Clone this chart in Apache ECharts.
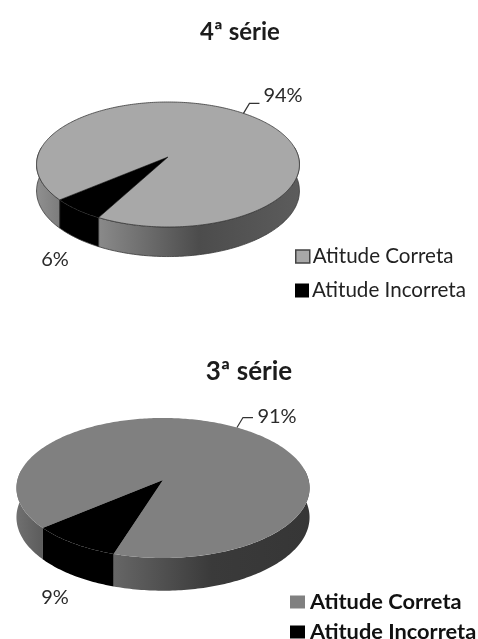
<!DOCTYPE html>
<html>
<head>
<meta charset="utf-8">
<style>html,body{margin:0;padding:0;background:#fff}#c{width:478px;height:639px}</style>
<script src="https://cdn.jsdelivr.net/npm/echarts@6/dist/echarts.min.js"></script>
</head>
<body>
<div id="c"></div>
<script>
// Attitude shares per school grade
const categories = ['Atitude Correta', 'Atitude Incorreta'];
const serie4 = [94, 6];
const serie3 = [91, 9];
const titles = ['4ª série', '3ª série'];

const RAD = Math.PI / 180;

// Perspective disc: a and b are the half axes, k the foreshortening, depth the wall height.
const disc4 = {
  values: serie4, cx: 168, cy: 157, a: 130.5, b: 61.6, k: 0.12, depth: 26, start: 230,
  top: '#a8a8a8', outline: '#3a3a3a', edge: 0.8,
  wallLeft: ['#909090', '#7c7c7c'], wallRight: ['#8a8a8a', '#4c4c4c', '#5c5c5c'],
  corretaLabel: [283, 96], incorretaLabel: [55, 260]
};
const disc3 = {
  values: serie3, cx: 163, cy: 480, a: 145.6, b: 69.1, k: 0.114, depth: 29, start: 230,
  top: '#808080', outline: '#808080', edge: 0,
  wallLeft: ['#707070', '#5c5c5c'], wallRight: ['#666666', '#3a3a3a', '#363636'],
  corretaLabel: [277, 417], incorretaLabel: [55, 598]
};

function project(d, deg) {
  const u = Math.sin(deg * RAD), v = Math.cos(deg * RAD), w = 1 + d.k * v;
  return { x: d.cx + d.a * u / w, y: d.cy - d.b * v / w, w: w };
}
function arc(d, from, to) {
  const pts = [], n = Math.max(2, Math.ceil(Math.abs(to - from)));
  for (let i = 0; i <= n; i++) pts.push(project(d, from + (to - from) * i / n));
  return pts;
}
function wall(d, from, to, fill) {
  const upper = arc(d, from, to);
  const lower = upper.slice().reverse().map(p => ({ x: p.x, y: p.y + d.depth / p.w }));
  return {
    type: 'polygon',
    shape: { points: upper.concat(lower).map(p => [p.x, p.y]) },
    style: { fill: fill, stroke: d.edge ? d.outline : null, lineWidth: d.edge }
  };
}
function gradient(colors) {
  return {
    type: 'linear', x: 0, y: 0, x2: 1, y2: 0,
    colorStops: colors.map((c, i) => ({ offset: i / (colors.length - 1), color: c }))
  };
}
function labelText(pos, text) {
  return {
    type: 'text',
    style: { x: pos[0], y: pos[1], text: text, fill: '#2a2a2a', font: '20px Lato', align: 'center', verticalAlign: 'middle' }
  };
}

// Large slice: front wall on both sides of the small wedge, then the top face and its leader.
function renderCorreta(d) {
  const total = d.values[0] + d.values[1];
  const end = d.start + 360 * d.values[0] / total;
  const mid = project(d, (d.start + end) / 2);
  const face = arc(d, d.start, end).map(p => [p.x, p.y]);
  face.push([d.cx, d.cy]);
  const children = [
    wall(d, d.start, 279, gradient(d.wallLeft)),
    wall(d, 81, end - 360, gradient(d.wallRight)),
    { type: 'polygon', shape: { points: face }, style: { fill: d.top, stroke: d.edge ? d.outline : null, lineWidth: d.edge } },
    { type: 'polyline',
      shape: { points: [[mid.x, mid.y], [mid.x + 6, mid.y - 10], [mid.x + 16, mid.y - 10]] },
      style: { stroke: '#333', lineWidth: 1.2, fill: null } },
    labelText(d.corretaLabel, d.values[0] + '%')
  ];
  return { type: 'group', children: children };
}

// Small slice: solid black wedge with its wall.
function renderIncorreta(d) {
  const total = d.values[0] + d.values[1];
  const from = d.start + 360 * d.values[0] / total - 360;
  const to = d.start;
  const face = arc(d, from, to).map(p => [p.x, p.y]);
  face.push([d.cx, d.cy]);
  return {
    type: 'group',
    children: [
      wall(d, from, to, '#000'),
      { type: 'polygon', shape: { points: face }, style: { fill: '#000' } },
      labelText(d.incorretaLabel, d.values[1] + '%')
    ]
  };
}

function discSeries(d) {
  return [
    { type: 'custom', name: categories[0], coordinateSystem: 'none', silent: true,
      data: [d.values[0]], renderItem: () => renderCorreta(d) },
    { type: 'custom', name: categories[1], coordinateSystem: 'none', silent: true,
      data: [d.values[1]], renderItem: () => renderIncorreta(d) }
  ];
}

// One single-entry legend per row, so each row keeps its own place.
function legendRow(name, left, top, width, height, textStyle, itemStyle) {
  return {
    left: left, top: top, padding: 0, itemWidth: width, itemHeight: height,
    selectedMode: false, icon: 'rect', textStyle: textStyle,
    data: [{ name: name, itemStyle: itemStyle }]
  };
}
const plain = { fontFamily: 'Lato', fontSize: 20.6, color: '#222', padding: [0, 0, 0, -2] };
const heavy = { fontFamily: 'Lato', fontWeight: 'bold', fontSize: 21.8, color: '#111' };

const chart = echarts.init(document.getElementById('c'), null, { renderer: 'canvas' });
chart.setOption({
  animation: false,
  backgroundColor: '#fff',
  title: [
    { text: titles[0], left: 235, top: 15, textAlign: 'center',
      textStyle: { fontFamily: 'Lato', fontWeight: 'bold', fontSize: 24, color: '#1c1c1c' } },
    { text: titles[1], left: 244, top: 354, textAlign: 'center',
      textStyle: { fontFamily: 'Lato', fontWeight: 'bold', fontSize: 26, color: '#1c1c1c' } }
  ],
  legend: [
    legendRow(categories[0], 295, 246, 14, 13, plain, { color: '#a8a8a8', borderColor: '#444', borderWidth: 1.5 }),
    legendRow(categories[1], 295, 280, 14, 14, plain, { color: '#000', borderWidth: 0 }),
    legendRow(categories[0], 290, 591, 15, 13, heavy, { color: '#808080', borderWidth: 0 }),
    legendRow(categories[1], 290, 621, 15, 13, heavy, { color: '#000', borderWidth: 0 })
  ],
  series: discSeries(disc4).concat(discSeries(disc3))
});
</script>
</body>
</html>
